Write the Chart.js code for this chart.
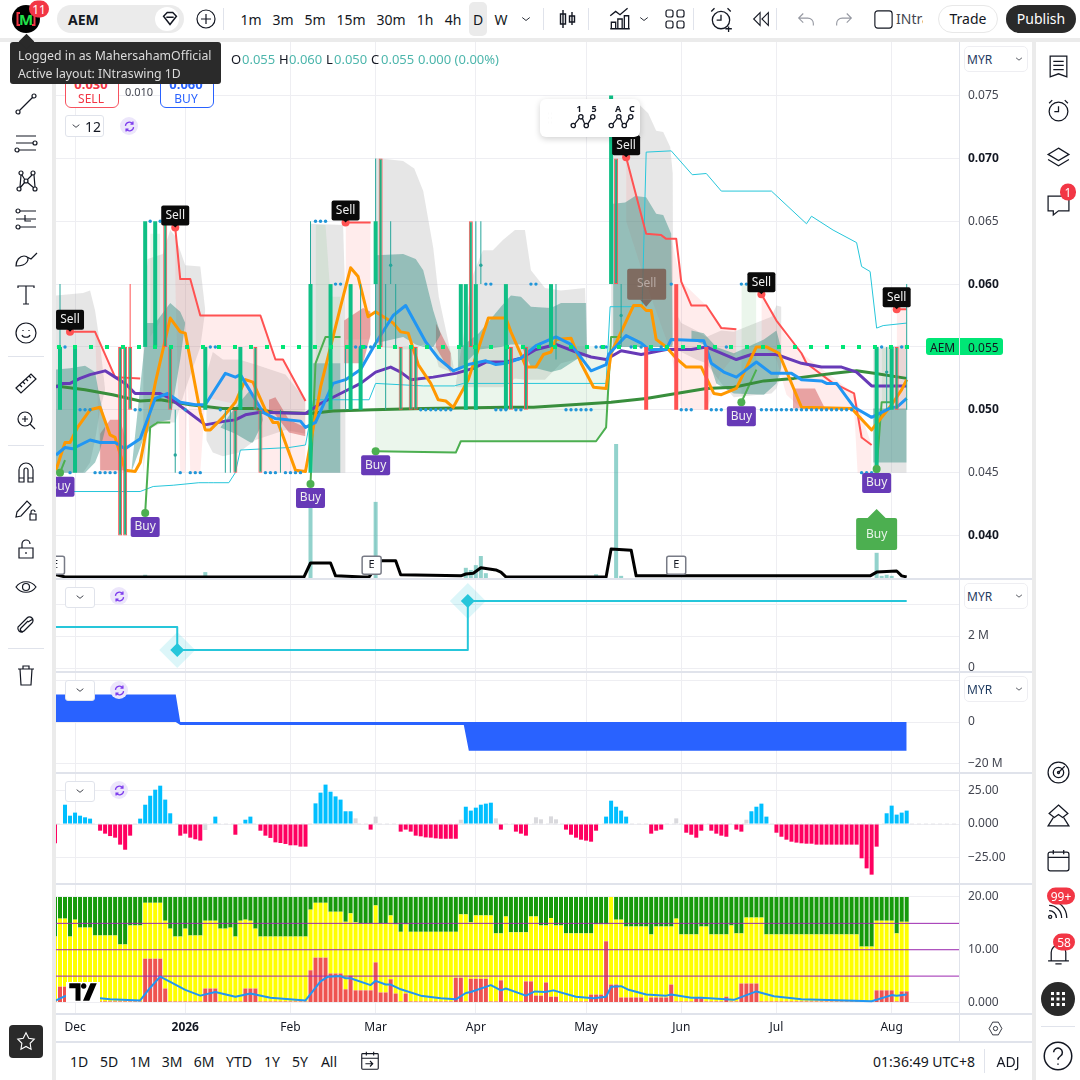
<!DOCTYPE html>
<html>
<head>
<meta charset="utf-8">
<title>AEM 1D</title>
<script src="https://cdn.jsdelivr.net/npm/chart.js@4"></script>
<style>
  html, body { margin: 0; padding: 0; background: #fff; width: 1080px; height: 1080px; overflow: hidden; font-family: "Noto Sans", sans-serif; color: #131722; }
  canvas { position: absolute; }
  .ui { position: absolute; white-space: nowrap; }
  .mid { transform: translate(-50%, -50%); }
  .ic { position: absolute; fill: none; stroke: #131722; stroke-width: 1.2; }
</style>
</head>
<body>
<canvas id="priceChart" width="978" height="536" style="left:56px;top:42px"></canvas>
<canvas id="flowChart" width="978" height="92" style="left:56px;top:579px"></canvas>
<canvas id="netChart" width="978" height="100" style="left:56px;top:672px"></canvas>
<canvas id="momentumChart" width="978" height="110" style="left:56px;top:773px"></canvas>
<canvas id="stackChart" width="978" height="158" style="left:56px;top:884px"></canvas>
<script>
// ---- axis labels
const monthBars = [3, 25, 46, 63, 83, 105, 124, 143, 166];
const monthLabels = ["Dec", "2026", "Feb", "Mar", "Apr", "May", "Jun", "Jul", "Aug"];
const priceTicks = [0.075, 0.07, 0.065, 0.06, 0.055, 0.05, 0.045, 0.04];
const strongPriceTicks = ["0.070", "0.060", "0.050", "0.040"];

// ---- main pane lines (bar number, price)
const purpleBars = [-0.8,0.6,2,4,6,9,11,13,15,20,22,25,29,33,35,37,40,49,52,56,60,63,66,68,70,74.5,79,82.5,85,89,92,95,99,103,106,109,112,116,121,126,129,135,138,143,148,152,156,159,162,169];
const purpleValues = [.0518,.0521,.0521,.0525,.0528,.0531,.0526,.0521,.0513,.0513,.0509,.05,.0488,.0491,.0492,.0496,.0498,.0497,.0505,.0513,.0521,.053,.0534,.053,.0524,.0526,.0529,.0533,.0538,.0538,.0541,.0548,.0552,.0546,.0542,.054,.0547,.0544,.0548,.0548,.055,.054,.0544,.0544,.0537,.0534,.0534,.053,.0519,.0519];
const blueBars = [-0.8,1,2.5,6,8,11,13,16,19,21.5,24,27,29,33,35,36,40.5,43,48,49,51,54.5,57,60,63,66.5,69,73,75.5,78.5,81.5,85,87,89,92,95,99,102,106,109,109.5,113,116,117.5,121,122,128.5,130,132.5,135,139,142,146,148,152,153,155,158.5,162,166,167,169];
const blueValues = [.0464,.047,.0469,.0476,.0474,.0474,.0469,.0477,.0509,.0513,.0506,.0504,.0504,.0529,.0526,.0528,.0498,.0493,.0491,.0486,.049,.0521,.0524,.0532,.0553,.0575,.0583,.0554,.0541,.0531,.0536,.0539,.0536,.0537,.0541,.0551,.0558,.0552,.0531,.0536,.0544,.0559,.0553,.0548,.0548,.0556,.0555,.0537,.053,.0526,.0538,.0529,.0529,.0524,.0523,.0521,.0521,.0502,.0494,.0502,.0502,.0509];
const orangeBars = [-0.8,1,2,3.5,6,8,10,11,13,15,16,19,22,24,25,28,29,30,32.5,35,37,38.5,41,42.5,43.5,47,49,52,56,58,59.5,61.5,63,66.5,68,69.5,71.5,74,75.5,77,78.5,81.5,85.5,89,90,92,93,95,96.5,98,99,102,104,106.5,109,110,114.5,116,117,118,119,121,123,125,128,130.5,132,135,139,141,143.5,148,158,162,166,168,169];
const orangeValues = [.0452,.0474,.0474,.0486,.05,.0502,.048,.0478,.0452,.0451,.0458,.0521,.0573,.0562,.0561,.0498,.0484,.0484,.0494,.0506,.0524,.0522,.05,.049,.049,.0452,.0451,.0518,.0582,.0613,.0606,.0574,.0578,.0569,.0562,.0561,.0536,.0521,.0508,.0507,.0502,.0524,.0573,.0573,.0562,.0544,.0534,.0534,.0544,.0546,.0556,.0557,.0537,.0518,.0517,.0545,.0583,.0583,.0579,.0579,.0556,.055,.0541,.0534,.0534,.0513,.0512,.0517,.055,.055,.0545,.0502,.0501,.0484,.0504,.0516,.0524];
const darkGreenBars = [-0.8,5,10.5,16,20,26,32.5,39,42.5,50,54.5,62.5,72.5,89,94.5,110,117,123,129,134.5,140.5,146.5,154.5,159,162.5,169];
const darkGreenValues = [.0519,.0516,.0512,.0507,.0508,.0504,.0501,.0501,.0498,.0497,.0499,.05,.0501,.0502,.0502,.0506,.0509,.0513,.0517,.0518,.0523,.0525,.0529,.0531,.0529,.0525];
const cyanBars = [-0.8,16,18.6,22.6,27.7,29.7,30.7,33.7,35,36,45.7,49,49.6,50.6,61.7,63,72.5,78.7,80.5,89,109,109.8,116.2,117,122,126.2,129,132,142,149,150,154.3,159,160,161.7,163,164.3,169];
const cyanValues = [.0435,.0435,.0439,.044,.0442,.0442,.0442,.0442,.045,.0468,.047,.0472,.0485,.0508,.0508,.0521,.0519,.0519,.0521,.0521,.0521,.0582,.0582,.0705,.0706,.0687,.0688,.0674,.0674,.0648,.0654,.0643,.0633,.0614,.061,.0565,.0567,.0569];
const redStopBars = [2,7,11,16,16.5,23,24,26,28,40,43,44.5,49,49.5,57,62,62.5,113,117,120,121,123,124,126,129,132,135,135.5,140,143,148,149,154,158.5,160,162,162.5,167,169];
const redStopValues = [.0562,.0562,.0526,.0525,null,.0645,.0604,.0604,.0575,.0575,.054,.054,.0507,null,.0649,.0649,null,.0701,.064,.0639,.0636,.0636,.0602,.0583,.0583,.0565,.0564,null,.0592,.0571,.0545,.0537,.0522,.0513,.0478,.0472,null,.058,.058];
const greenStopBars = [0,1,1.5,17,18,19.5,22,22.5,50,51,53,56,56.5,63,79,80,107,109,110,112,112.5,136,139,139.5,163,164,166];
const greenStopValues = [.045,.046,null,.0418,.0486,.049,.049,null,.0441,.0537,.0558,.0558,null,.0467,.0466,.0475,.0475,.0486,.0558,.0558,null,.0506,.0532,null,.0453,.0506,.0506];

// ---- shaded bands (bar number, upper, lower)
const grayBars = [-0.8,4.6,6,7,8,9,9.1,16.6,17.5,20.5,22,23,25,28,29,29.1,29.2,30.5,32.5,35.7,39,45,49,49.1,50,56.5,57,57.1,63,64,68.5,70.7,72.5,74.5,75.6,78.6,78.7,79,82.5,84.4,86.4,88.4,90.8,92.8,94,96.8,100,104.8,105.2,105.3,110,112.8,115.8,117.4,119,120.4,121.8,122.3,122.4,122.5,123,124,127,129,132,134.5,142,143,144,144.1,162.3,169];
const grayUpper = [.0591,.0593,.0595,.0579,.0552,.0516,null,.0579,.062,.0624,.0643,.0638,.0615,.0614,.0579,null,.0528,.0546,.054,.054,.0536,.0528,.0508,null,.0648,.0647,.0582,null,.07,.07,.0698,.0692,.0674,.0629,.059,.0534,null,.0521,.0608,.0627,.0627,.0635,.0643,.0643,.0611,.0597,.0595,.0597,.054,null,.0717,.0733,.0742,.0736,.0722,.0721,.0709,.0688,.0552,null,.0577,.0569,.0563,.0558,.0563,.0562,.0574,.0583,.0582,null,.0548,.0552];
const grayLower = [.045,.045,.0458,.0476,.05,.0516,null,.045,.0484,.049,.049,.049,.0516,.055,.0579,null,.0476,.0466,.0463,.0466,.0476,.0484,.0481,null,.045,.045,.045,null,.055,.055,.0548,.0548,.0552,.055,.0534,.0529,null,.0518,.0518,.0518,.0518,.0518,.0525,.0524,.0524,.0524,.0537,.0542,.054,null,.055,.055,.055,.055,.055,.055,.055,.0552,.0552,null,.0548,.0546,.054,.0537,.0521,.051,.0513,.0517,.0529,null,.045,.045];
const tealBars = [-0.8,2,5,7,8,9,9.1,14.2,17,17.3,19,22,24,25,25.1,32,35,38,38.5,40,40.5,40.6,50.5,56,56.1,63,68.5,71,72.5,74.5,76,76.1,79.4,83.6,88,90,92,94,98,100,105,105.2,105.3,110.4,112.8,114.8,117,119,120.4,122,122.3,122.4,126,128.5,131,134.5,140.5,143,144,144.1,162.3,169];
const tealUpper = [.0532,.0533,.0535,.053,.0508,.0492,null,.045,.0556,.0569,.0569,.0585,.0578,.0569,null,.0486,.0502,.0516,.051,.0502,.0492,null,.0537,.0537,null,.0623,.0624,.062,.0611,.0579,.056,null,.0548,.0561,.0582,.0591,.059,.0582,.0581,.0585,.0585,.054,null,.0664,.0665,.067,.0669,.0656,.0655,.064,.0556,null,.0563,.0561,.055,.0545,.0556,.0563,.0548,null,.0501,.0501];
const tealLower = [.045,.045,.045,.0458,.0468,.0484,null,.045,.0481,.0481,.049,.0492,.054,.0569,null,.0486,.0481,.0474,.0474,.0486,.0492,null,.045,.045,null,.0553,.0558,.0552,.055,.055,.056,null,.0531,.0548,.055,.0552,.0552,.0534,.053,.0532,.0545,.054,null,.055,.055,.055,.055,.055,.055,.055,.055,null,.0556,.0552,.0521,.0513,.0512,.0521,.0534,null,.0458,.0458];
const pinkBars = [7,8,11,14,14.1,23,24,25,25.5,26,28,29,40,40.5,43,44.5,49,49.1,57,62,62.1,113,117,122,124,129,132,135,135.1,140,143,145,148,158.5,159.2,162,162.1,167,169];
const pinkUpper = [.0562,.0554,.0526,.0525,null,.0645,.0604,.0604,.0604,.0604,.0575,.0575,.0575,.0573,.054,.054,.0507,null,.0649,.0649,null,.0701,.064,.0636,.0602,.0583,.0565,.0564,null,.0592,.0571,.0558,.0545,.0513,.0505,.0472,null,.058,.058];
const pinkLower = [.0562,.045,.045,.045,null,.06,.045,.045,.052,.045,.045,.051,.05,.045,.045,.045,.045,null,.0556,.0556,null,.065,.06,.0545,.05,.05,.053,.0545,null,.0552,.054,.0512,.0501,.0501,.045,.045,null,.05,.05];
const roseBars = [8,10,12,13,13.1,41.7,43,45.7,49,49.1,56.7,60.5,62,62.1,75,78,78.1,146.3,150.7,152.7];
const roseUpper = [.0481,.0492,.0492,.0478,null,.0508,.051,.0492,.0486,null,.0571,.0581,.0578,null,.0569,.0545,null,.0517,.0517,.0501];
const roseLower = [.0452,.0452,.0452,.0452,null,.05,.0496,.0482,.0479,null,.0537,.0537,.056,null,.055,.0529,null,.0501,.0501,.0501];
const paleGreenBars = [18,20,20.1,51,53,54,56,56.1,63,79,80,107,109,109.5,109.6,136,139,139.1,164,166];
const paleGreenUpper = [.064,.064,null,.0647,.0647,.059,.059,null,.055,.055,.055,.055,.055,.055,null,.06,.06,null,.055,.055];
const paleGreenLower = [.0558,.057,null,.0537,.0537,.0537,.0537,null,.0467,.0466,.0475,.0475,.0486,.051,null,.0506,.0532,null,.0506,.0506];

// ---- candles (bar number, low, high)
const upBars = [0,3,17,19,29,36,50,54,58,60,63,80,81,83,89,98,110,163,166];
const upLow = [.05,.045,.055,.055,.05,.05,.045,.05,.05,.05,.06,.055,.05,.05,.05,.055,.06,.045,.05];
const upHigh = [.055,.055,.065,.065,.055,.055,.06,.06,.06,.055,.065,.06,.06,.06,.06,.06,.075,.055,.055];
const mixedBars = [12,13,14,21,22,35,39,40,64,68,70,71,82,90,93,111,167];
const mixedLow = [.04,.04,.05,.055,.05,.045,.05,.045,.055,.05,.05,.05,.055,.05,.05,.06,.05];
const mixedHigh = [.055,.055,.055,.065,.055,.05,.055,.05,.07,.055,.055,.055,.065,.055,.055,.07,.055];
const downBars = [117,123,129];
const downLow = [.05,.05,.05];
const downHigh = [.055,.06,.055];
const wickBars = [0,23,33,34,44,50,57,60,63,65,66,67,83,84,99,112,165,169];
const wickLow = [.055,.045,.045,.045,.045,.06,.05,.055,.055,.05,.06,.055,.06,.06,.054,.055,.05,.05];
const wickHigh = [.06,.05,.05,.05,.05,.065,.055,.06,.07,.06,.065,.06,.065,.065,.06,.06,.055,.06];
const redWickBars = [14];
const redWickLow = [.055];
const redWickHigh = [.06];

// ---- flat days drawn as little dots
const dotsAt065 = [18,20,51,52,53];
const dotsAt060 = [55,56,85,86,94,95,122,136,137,138,139];
const dotsAt055 = [1,30,31,59,60,61,62,70,107,108,109,114,116,118,120,133,164,166,168];
const dotsAt050 = [4,5,6,15,16,25,32,72,73,74,75,76,77,78,87,88,89,91,92,101,102,103,104,105,106,124,125,126,130,131,132,134,135,140,141,142,143,144,145,146,147,148,149,150,151,152,153,154,155,156,157,158];
const dotsAt045 = [2,7,8,9,10,11,24,26,27,28,41,42,43,45,46,47,48,160,161,162];
const wickDotBars = [23,66,84,112,165];
const wickDotPrices = [.0464,.0615,.0615,.0575,.053];

// ---- signals
const sellBars = [2,23,57,113,140,167];
const sellPrices = [.0562,.0645,.0649,.0701,.0592,.058];
const buyBars = [0,17,50,63,136,163];
const buyPrices = [.045,.0418,.0441,.0467,.0506,.0453];
const earningsBars = [-1,62.2,123];
const lastPrice = 0.055;

// ---- volume on its own hidden scale
const volumeBars = [17,29,50,63,81,82,83,84,85,107,111,112,163,164,165,166];
const volumeValues = [.6,1.1,16.4,14.2,1.9,1.5,2.4,4.1,.9,.7,25,.4,4.7,.4,.6,.4];
const volumeMaBars = [-0.8,1,48.7,50,54,55,60.5,61.7,64,67,68,80,81,82.5,84,87,88,89,109,110,114,115,161.7,163,167,168,169];
const volumeMaValues = [.6,.2,.2,2.8,2.8,.4,.2,.2,3.2,3.2,.6,.4,.75,.9,1.9,1.5,1.1,.2,.2,5.4,5.2,.4,.4,1.1,1.3,.4,.2];

// ---- second pane, step line (millions)
const flowBars = [-0.8,23.4,23.4,81.4,81.4,169];
const flowValues = [2.56,2.56,1.12,1.12,4.19,4.19];
const flowMarkerBars = [23.4,81.4];
const flowMarkerValues = [1.12,4.19];

// ---- third pane, filled band (millions)
const netBars = [-0.8,23.1,24,80.6,81.6,169];
const netUpper = [13.3,13.3,0,0,0,0];
const netLower = [0,0,-1.4,-1.4,-13.8,-13.8];

// ---- fourth pane, histogram, first value is bar -1
const momentumValues = [-14.4,0,14.4,6.2,8.5,6.2,5,4,0,-5,-7.2,-9,-10.2,-15.4,-19.2,-8.7,0,4,14.4,21.1,25.6,28.6,18.2,8,0,-8.7,-7.2,-10.2,-11.4,-12.4,-4.5,0,5.5,0,0,0,-8,0,3.2,5.5,0,-5,-8.7,-10.4,-13.7,-14.2,-14.9,-15.9,-15.9,-16.9,-16.9,0,15.4,23.4,29.4,24.1,20.6,18.2,9.5,9.5,4.2,0,0,-4.2,5.5,0,0,0,0,-5.7,-4.2,-5.7,-8.7,-9.2,-10,-10.2,-10.7,-11,-11,-11,-11,3.2,12.9,10,12.2,14.4,15.2,15.9,4.2,-4.2,0,0,-5.7,-7.2,-8.7,0,5,3.5,0,5.7,3.5,0,-4.2,-8,-10.2,-11.7,-12.4,-13.2,-5,0,5.5,17.4,12.9,10,5.5,0,0,0,0,-7.2,-5,-4.2,0,0,4.2,0,-6.5,-8,-10.2,-5,0,-5,-7.2,-8.7,-9.5,0,-4.2,-5.7,3.2,9.5,12.9,15.2,5.5,0,-6.5,-9.5,-11.7,-13.2,-13.9,-14.4,-14.7,-14.7,-15.4,-15.4,-15.4,-15.4,-15.4,-15.4,-15.4,-15.4,-15.4,-25.6,-33.1,-37.8,-16.9,0,8,13.7,7,8.5,10];
const momentumGreyBars = [29,59,63,80,87,95,96,98,99,123,137];

// ---- fifth pane, stacked columns, first value is bar -1
const redLevels = [.2,3,3,1.5,.4,.2,.2,.2,.2,.2,.2,.2,.2,.2,.2,.2,.2,.2,8.3,8.3,8.3,8.3,2.65,.2,.2,.2,.2,.2,.2,.2,2.65,2.65,2.65,.2,.2,.2,.2,.2,2.65,2.65,2.65,.2,.2,.2,.2,.2,.2,.2,.2,.2,.2,6.1,8.5,8.5,8.5,5.5,5.5,5.5,2.5,5.1,2.3,2.3,2.3,2.3,7.6,1.9,1.9,4.4,1.7,.2,1.7,.2,.2,.2,.2,.2,.2,.2,.2,.2,4.7,4.7,.2,4.5,4.5,4.5,4.5,.2,.2,4.2,.2,.2,.2,.2,4,4,1.3,1.3,3.8,1.1,1.1,.2,.2,.2,.2,.2,.2,1.5,1.5,1.5,11.6,3.4,3.4,.95,.95,.95,.95,.95,.2,.95,.95,.95,.95,3.4,.2,.2,.2,.2,.95,.95,.2,.2,.2,.2,1.1,.2,.2,3.6,3.6,3.6,3.6,.2,.2,.2,.2,.2,.2,.2,.2,.2,.2,.2,.2,.2,.2,.2,.2,.2,.2,.2,.2,.2,.2,.2,2.3,2.3,2.3,2.3,.2,2.1,2.1];
const yellowLevels = [12.5,15.9,15.9,12.5,15.7,14.2,14.2,14.2,12.7,12.7,12.7,12.7,12.7,11,11,14.6,14.6,14.6,18.9,18.9,18.9,18.9,15.5,14,12.5,12.5,14,12.7,12.7,12.7,15.5,15.5,15.5,14,14,14.2,12.5,15.5,15.7,15.5,14,12.5,12.5,12.5,12.5,12.5,12.5,12.5,12.5,12.5,12.5,17.6,18.9,18.9,18.9,17.2,17.2,17.2,15.3,16.9,15.2,15,15,15,18.4,15,15,16.5,14.8,13.4,14.8,13.4,13.4,13.4,13.4,13.4,13.4,13.4,13.4,13.4,13.4,16.7,16.7,15.2,16.5,16.5,16.5,16.5,13.1,13.1,16.3,13.3,13.3,13.3,13.3,16.3,16.3,14.6,14.6,16,14.6,14.6,13.1,13.1,13.1,13.1,13.1,13.1,14.8,14.8,14.8,20,15.7,15.7,14.4,14.4,14.4,14.4,14.4,12.9,14.4,14.4,14.4,14.4,15.9,12.9,12.9,12.9,12.9,14.4,14.4,12.9,12.9,12.9,12.9,14.6,13.1,13.1,16.1,16.1,16.1,16.1,12.9,12.9,12.9,12.9,12.9,12.9,12.9,12.9,12.9,12.9,12.9,12.9,12.9,12.9,12.9,12.9,12.9,12.9,12.9,10.6,10.6,10.6,15.5,15.5,15.5,15.5,13.1,15.3,15.3];
const stackTop = 20;
const guideLevels = [15, 10, 5];
const averageBars = [-0.8,1,2,7,10,16,18,20,22,25,28,31,35,38,42,49,52,53.5,56,57,58,62,63,65,66,68,72,76,79,81,82,86,88,89,93,94.8,96.8,98.5,103,106.5,109,110,112,113.5,117,121,122,126,128,134.5,139,142.5,148,162,166,167,169];
const averageValues = [.4,1.2,1.3,.9,.6,.4,2.8,4.9,3.9,2.4,1.3,2,1.1,1.7,.9,.4,4,4.9,5,4.6,4.6,3.3,4.1,3.4,3.4,2.5,1.3,.8,.6,1.8,2,3.3,2.3,2.65,1.3,2.1,2,2.3,1.1,.8,1.1,3,3.1,2.4,1.5,1.3,1.5,.9,.9,.5,2.1,1.2,.6,.25,1.4,1.3,1.5];

// ---- helpers
const UI_FONT = '"Noto Sans", sans-serif';
const pts = (bars, vals) => bars.map((x, i) => ({ x, y: vals[i] }));
const spans = (bars, lo, hi) => bars.map((x, i) => ({ x, y: [lo[i], hi[i]] }));
const fromMinusOne = (vals) => vals.map((y, i) => ({ x: i - 1, y }));
const flat = (bars, price) => bars.map((x) => ({ x, y: price }));

function line(bars, vals, color, width, order, extra) {
  return Object.assign({ type: "line", data: pts(bars, vals), borderColor: color, borderWidth: width, pointRadius: 0, tension: 0, order: order, borderJoinStyle: "round", fill: false }, extra);
}
function band(bars, upper, lower, color, order) {
  return [
    { type: "line", data: pts(bars, upper), borderWidth: 0, pointRadius: 0, tension: 0, fill: "+1", backgroundColor: color, order: order },
    { type: "line", data: pts(bars, lower), borderWidth: 0, pointRadius: 0, tension: 0, fill: false, order: order },
  ];
}
function barSet(data, color, thickness, order, extra) {
  return Object.assign({ type: "bar", data: data, backgroundColor: color, barThickness: thickness, grouped: false, inflateAmount: 0, borderSkipped: false, order: order }, extra);
}
function dots(data, color, radius, order, extra) {
  return Object.assign({ type: "scatter", data: data, backgroundColor: color, borderWidth: 0, pointRadius: radius, order: order }, extra);
}
// keep the plot area exactly as large as the canvas minus the fixed axis sizes
function noPadding(s) {
  s.paddingTop = s.paddingBottom = s.paddingLeft = s.paddingRight = 0;
}

function paneOptions(yMin, yMax, tickValues, fmt, showMonths) {
  return {
    animation: false,
    responsive: false,
    events: [],
    layout: { padding: 0, autoPadding: false },
    plugins: { legend: { display: false }, tooltip: { enabled: false } },
    scales: {
      x: {
        type: "linear",
        offset: false,
        min: -0.8,
        max: 179.64,
        grid: { color: "#eeeef2", drawTicks: false, offset: false },
        border: { display: false },
        afterBuildTicks: (s) => { s.ticks = monthBars.map((value) => ({ value })); },
        afterFit: (s) => { s.height = showMonths ? 28 : 0; noPadding(s); },
        ticks: showMonths
          ? {
              autoSkip: false,
              maxRotation: 0,
              padding: 6,
              color: "#131722",
              callback: (v) => monthLabels[monthBars.indexOf(v)],
              font: (c) => ({ family: UI_FONT, size: 12, weight: c.tick && c.tick.value === 25 ? "bold" : "normal" }),
            }
          : { display: false },
      },
      y: {
        position: "right",
        min: yMin,
        max: yMax,
        grid: { color: "#eeeef2", drawTicks: false },
        border: { display: false },
        afterBuildTicks: (s) => { s.ticks = tickValues.map((value) => ({ value })); },
        afterFit: (s) => { s.width = 74; noPadding(s); },
        ticks: { autoSkip: false, padding: 8, color: "#434651", font: { family: UI_FONT, size: 12 }, callback: fmt },
      },
    },
  };
}

// ---- tags on the main pane
function roundBox(ctx, x, y, w, h, r, fill) {
  ctx.fillStyle = fill;
  ctx.beginPath();
  ctx.roundRect(x, y, w, h, r);
  ctx.fill();
}
function tagText(ctx, text, x, y, color, size) {
  ctx.fillStyle = color;
  ctx.font = size + "px " + UI_FONT;
  ctx.textAlign = "center";
  ctx.textBaseline = "middle";
  ctx.fillText(text, x, y);
}
const tagPlugin = {
  id: "tags",
  afterDatasetsDraw(chart) {
    const { ctx, chartArea, scales } = chart;
    const xs = scales.x, ys = scales.y, yv = scales.yVol;
    ctx.save();
    ctx.beginPath();
    ctx.rect(chartArea.left, chartArea.top, chartArea.width, chartArea.height);
    ctx.clip();

    sellBars.forEach((bar, i) => {
      const x = xs.getPixelForValue(bar), y = ys.getPixelForValue(sellPrices[i]);
      roundBox(ctx, x - 14, y - 22, 28, 20, 2, "#0a0a0a");
      ctx.beginPath(); ctx.moveTo(x - 3, y - 3); ctx.lineTo(x + 3, y - 3); ctx.lineTo(x, y); ctx.fill();
      tagText(ctx, "Sell", x, y - 12, "#f0f0f0", 12);
    });
    buyBars.forEach((bar, i) => {
      const x = xs.getPixelForValue(bar), y = ys.getPixelForValue(buyPrices[i]);
      roundBox(ctx, x - 14.5, y + 4, 29, 20, 2, "#673ab7");
      tagText(ctx, "Buy", x, y + 14, "#f0f0f0", 12);
    });
    earningsBars.forEach((bar) => {
      const x = xs.getPixelForValue(bar), y = yv.getPixelForValue(2.4);
      ctx.fillStyle = "#fff"; ctx.strokeStyle = "#787b86"; ctx.lineWidth = 1.5;
      ctx.beginPath(); ctx.roundRect(x - 9.5, y - 9, 19, 18, 2); ctx.fill(); ctx.stroke();
      tagText(ctx, "E", x, y, "#131722", 11);
    });

    // the big translucent sell and the big buy
    const sx = xs.getPixelForValue(117), sy = ys.getPixelForValue(0.0582);
    ctx.fillStyle = "rgba(121,85,72,0.78)";
    ctx.beginPath(); ctx.moveTo(sx - 6, sy - 7); ctx.lineTo(sx, sy); ctx.lineTo(sx + 6, sy - 7); ctx.fill();
    ctx.beginPath(); ctx.roundRect(sx - 19, sy - 38, 39, 31, 2); ctx.fill();
    tagText(ctx, "Sell", sx + 0.5, sy - 23, "#b8aaa4", 12);

    const bx = xs.getPixelForValue(163), by = ys.getPixelForValue(0.0421);
    ctx.fillStyle = "#4caf50";
    ctx.beginPath(); ctx.moveTo(bx - 9, by + 9); ctx.lineTo(bx, by); ctx.lineTo(bx + 9, by + 9); ctx.fill();
    ctx.beginPath(); ctx.roundRect(bx - 20.5, by + 9, 41, 32, 2); ctx.fill();
    tagText(ctx, "Buy", bx, by + 25, "#e8f5e9", 12);
    ctx.restore();
  },
};

// ---- main pane
const mainOptions = paneOptions(0.03662, 0.07926, priceTicks, (v) => v.toFixed(3), false);
const isStrongTick = (c) => c.tick && strongPriceTicks.includes(c.tick.value.toFixed(3));
mainOptions.scales.y.ticks.color = (c) => (isStrongTick(c) ? "#131722" : "#434651");
mainOptions.scales.y.ticks.font = (c) => ({ family: UI_FONT, size: 12, weight: isStrongTick(c) ? "bold" : "normal" });
mainOptions.scales.yVol = { display: false, position: "left", min: 0, max: 100 };

const volume = barSet(pts(volumeBars, volumeValues), "rgba(38,166,154,0.5)", 4, 70, { yAxisID: "yVol" });
new Chart(document.getElementById("priceChart"), {
  data: {
    datasets: [
      ...band(grayBars, grayUpper, grayLower, "rgba(150,150,150,0.24)", 90),
      ...band(pinkBars, pinkUpper, pinkLower, "rgba(255,82,82,0.11)", 88),
      ...band(paleGreenBars, paleGreenUpper, paleGreenLower, "rgba(76,175,80,0.11)", 86),
      ...band(roseBars, roseUpper, roseLower, "rgba(200,60,60,0.42)", 84),
      ...band(tealBars, tealUpper, tealLower, "rgba(38,135,125,0.42)", 82),
      volume,
      line(volumeMaBars, volumeMaValues, "#000", 3, 60, { yAxisID: "yVol" }),
      line(cyanBars, cyanValues, "#26c6da", 1, 40),
      line(redStopBars, redStopValues, "#ff5252", 2, 38),
      line(greenStopBars, greenStopValues, "#4caf50", 2, 38),
      line(darkGreenBars, darkGreenValues, "#388e3c", 3, 36),
      line(purpleBars, purpleValues, "#673ab7", 3, 35),
      line(orangeBars, orangeValues, "#ff9800", 3, 34),
      line(blueBars, blueValues, "#2196f3", 3, 33),
      barSet(spans(wickBars, wickLow, wickHigh), "#26a69a", 1, 20),
      barSet(spans(redWickBars, redWickLow, redWickHigh), "#ff5252", 1, 20),
      barSet(spans(upBars, upLow, upHigh), "#0fbf85", 4, 18),
      barSet(spans(mixedBars, mixedLow, mixedHigh), "#1fae80", 4, 18, { borderColor: "#ff5252", borderWidth: 1 }),
      barSet(spans(downBars, downLow, downHigh), "#ff5252", 4, 18),
      line([-0.6, 171.6], [lastPrice, lastPrice], "#00e676", 4, 10, { borderDash: [4, 12] }),
      dots(flat(dotsAt065, 0.065), "#2196d8", 1.7, 12),
      dots(flat(dotsAt060, 0.06), "#2196d8", 1.7, 12),
      dots(flat(dotsAt055, 0.055), "#2196d8", 1.7, 12),
      dots(flat(dotsAt050, 0.05), "#2196d8", 1.7, 12),
      dots(flat(dotsAt045, 0.045), "#2196d8", 1.7, 12),
      dots(pts(wickDotBars, wickDotPrices), "#26a69a", 1.7, 12),
      dots(pts(sellBars, sellPrices), "#ff5252", 4, 5),
      dots(pts(buyBars, buyPrices), "#4caf50", 4, 5),
    ],
  },
  options: mainOptions,
  plugins: [tagPlugin],
});

// ---- step pane
new Chart(document.getElementById("flowChart"), {
  data: {
    datasets: [
      line(flowBars, flowValues, "#26c6da", 2, 5),
      dots(pts(flowMarkerBars, flowMarkerValues), "#26c6da", 7, 2, { pointStyle: "rectRot" }),
      dots(pts(flowMarkerBars, flowMarkerValues), "rgba(38,198,218,0.16)", 18, 8, { pointStyle: "rectRot" }),
    ],
  },
  options: paneOptions(-0.1875, 5.5625, [4, 2, 0], (v) => (v === 4 ? "" : v === 0 ? "0" : v + " M"), false),
});

// ---- filled pane
new Chart(document.getElementById("netChart"), {
  data: { datasets: [...band(netBars, netUpper, netLower, "#2962ff", 5)] },
  options: paneOptions(-24.1, 24.1, [20, 0, -20], (v) => (v === 20 ? "" : v === 0 ? "0" : "\u221220 M"), false),
});

// ---- histogram pane
new Chart(document.getElementById("momentumChart"), {
  data: {
    datasets: [
      line([-0.8, 179.64], [0, 0], "#e4e4e8", 1, 9, { borderDash: [4, 3] }),
      barSet(fromMinusOne(momentumValues), (c) => {
        if (!c.raw) return "#000";
        if (momentumGreyBars.includes(c.raw.x)) return "#d9d9dd";
        return c.raw.y > 0 ? "#00bfff" : "#ff0060";
      }, 4, 5),
    ],
  },
  options: paneOptions(-44.03, 38.06, [25, 0, -25], (v) => (v === 0 ? "0.000" : (v < 0 ? "\u221225.00" : "25.00")), false),
});

// ---- stacked pane
const stackRows = redLevels.map((_, i) => i - 1);
new Chart(document.getElementById("stackChart"), {
  data: {
    datasets: [
      barSet(stackRows.map((x, i) => ({ x, y: [yellowLevels[i], stackTop] })), "#169a0a", 4, 9),
      barSet(stackRows.map((x, i) => ({ x, y: [redLevels[i], yellowLevels[i]] })), "#ffff00", 4, 8),
      barSet(stackRows.map((x, i) => ({ x, y: [0, redLevels[i]] })), "#ef5350", 4, 7),
      ...guideLevels.map((level) => line([-0.8, 179.64], [level, level], "#9c27b0", 1, 4)),
      line(averageBars, averageValues, "#2196f3", 2, 2),
    ],
  },
  options: paneOptions(-2.18, 22.46, [20, 10, 0], (v) => (v === 0 ? "0.000" : v.toFixed(2)), true),
});

// ---- everything around the charts
function block(left, top, width, height, css) {
  const d = document.createElement("div");
  d.className = "ui";
  d.style.cssText = `left:${left}px;top:${top}px;width:${width}px;height:${height}px;` + (css || "");
  document.body.appendChild(d);
  return d;
}
function label(text, cx, cy, css) {
  const d = document.createElement("div");
  d.className = "ui mid";
  d.textContent = text;
  d.style.cssText = `left:${cx}px;top:${cy}px;font-size:14px;` + (css || "");
  document.body.appendChild(d);
  return d;
}
function leftLabel(text, x, cy, css) {
  const d = label(text, x, cy, css);
  d.style.transform = "translateY(-50%)";
  return d;
}
function icon(cx, cy, inner, size, css) {
  const s = size || 24;
  const wrap = document.createElement("div");
  wrap.innerHTML = `<svg class="ic" width="${s}" height="${s}" viewBox="0 0 24 24" style="left:${cx - s / 2}px;top:${cy - s / 2}px;${css || ""}">${inner}</svg>`;
  document.body.appendChild(wrap.firstChild);
}
function badge(text, cx, cy, w) {
  label(text, cx, cy, `width:${w}px;height:17px;line-height:17px;text-align:center;border-radius:9px;background:#f23645;color:#fff;font-size:12px;`);
}
const chevron = '<path d="M7 10l5 4 5-4"/>';
const refresh = '<path d="M5.5 11a6.5 6.5 0 0 1 11.5-3.5M18.5 13a6.5 6.5 0 0 1-11.5 3.5M17.5 4v4h-4M6.5 20v-4h4" stroke="#7c3aed" stroke-width="2"/>';

// frames
block(0, 38, 1080, 4, "background:#ebebeb;");
block(52, 38, 4, 1042, "background:#ebebeb;");
block(1032, 38, 4, 1042, "background:#ebebeb;");
block(56, 578, 976, 1.5, "background:#e0e3eb;");
block(56, 671, 976, 1.5, "background:#e0e3eb;");
block(56, 772, 976, 1.5, "background:#e0e3eb;");
block(56, 883, 976, 1.5, "background:#e0e3eb;");
block(56, 1013, 976, 1.5, "background:#e0e3eb;");
block(56, 1041, 976, 1.5, "background:#e0e3eb;");

// top bar
block(12, 5, 28, 28, "background:#000;border-radius:50%;");
label("M", 26, 19, "color:#22e04a;font-weight:bold;font-size:15px;");
icon(26, 19, '<path d="M6 6H3.500v12H6M18 6h2.500v12H18" stroke="#f23645" stroke-width="2"/>', 24);
badge("11", 39, 9, 20);
block(57, 5, 127, 28, "background:#ebebeb;border-radius:14px;");
leftLabel("AEM", 68, 19, "font-weight:bold;font-size:14px;");
block(155, 7, 24, 24, "background:#fff;border-radius:50%;");
icon(170, 19, '<path d="M5 9l4-4h6l4 4-7 9zM8 10h8" stroke-width="1.6"/>', 22);
icon(206, 19, '<circle cx="12" cy="12" r="9"/><path d="M12 7v10M7 12h10"/>', 24);
block(223, 8, 1, 22, "background:#e0e3eb;");
const intervals = [["1m", 251], ["3m", 283], ["5m", 315], ["15m", 351], ["30m", 391], ["1h", 425], ["4h", 453], ["W", 501]];
block(469, 2, 18, 34, "background:#ebebeb;border-radius:5px;");
intervals.forEach(([t, x]) => label(t, x, 19));
label("D", 478, 19);
icon(526, 19, chevron, 18);
block(543, 8, 1, 22, "background:#e0e3eb;");
icon(567, 19, '<path d="M8 3v18M8 7h-2.5v10h5V7zM17 5v13M14.5 9h5v6h-5z" stroke-width="1.4"/>', 24);
block(588, 8, 1, 22, "background:#e0e3eb;");
icon(620, 19, '<path d="M3 21h18M4 21v-6h4v6M10 21V12h4v9M16 21V9h4v12M3 9l5-4 4 3 7-6"/>', 26);
icon(644, 19, chevron, 18);
icon(675, 19, '<rect x="3" y="3" width="7" height="7" rx="2"/><rect x="14" y="3" width="7" height="7" rx="2"/><rect x="3" y="14" width="7" height="7" rx="2"/><rect x="14" y="14" width="7" height="7" rx="2"/>', 24);
block(693, 8, 1, 22, "background:#e0e3eb;");
icon(721, 19, '<circle cx="12" cy="13" r="8"/><path d="M12 8v5H8M3 5l3-3M21 5l-3-3M19 19v6M16 21h6"/>', 26);
icon(761, 19, '<path d="M11 5l-7 7 7 7zM20 5l-7 7 7 7z"/>', 22);
block(776, 8, 1, 22, "background:#e0e3eb;");
icon(806, 19, '<path d="M9 6l-5 5 5 5M4 11h10a6 6 0 0 1 6 6v2" stroke="#9598a1"/>', 22);
icon(844, 19, '<path d="M15 6l5 5-5 5M20 11H10a6 6 0 0 0-6 6v2" stroke="#9598a1"/>', 22);
icon(883, 19, '<rect x="3" y="3" width="18" height="18" rx="3"/>', 23);
const intra = block(896, 8, 27, 22, "overflow:hidden;font-size:14px;line-height:22px;color:#434651;");
intra.textContent = "INtraswing 1D";
label("Trade", 968, 19, "width:58px;height:26px;line-height:26px;text-align:center;border:1px solid #e8e8e8;border-radius:15px;background:#fff;");
label("Publish", 1041, 19, "width:70px;height:28px;line-height:28px;text-align:center;border-radius:15px;background:#2a2a2a;color:#fff;");

// legend row and order buttons
const legendParts = [["O", 231, "#131722"], ["0.055", 242, "#4db6ac"], ["H", 279, "#131722"], ["0.060", 289, "#4db6ac"], ["L", 326, "#131722"], ["0.050", 334, "#4db6ac"], ["C", 371, "#131722"], ["0.055", 381, "#4db6ac"], ["0.000 (0.00%)", 418, "#4db6ac"]];
legendParts.forEach(([t, x, c]) => leftLabel(t, x, 58.5, `color:${c};font-size:13px;`));
block(65, 70, 52, 36, "border:1px solid #f7525f;border-radius:6px;background:#fff;");
label("0.030", 91, 84, "color:#f23645;font-size:13px;font-weight:bold;");
label("SELL", 91, 98, "color:#f23645;font-size:12px;");
label("0.010", 139, 91, "font-size:11px;color:#434651;");
block(160, 70, 52, 36, "border:1px solid #2962ff;border-radius:6px;background:#fff;");
label("0.060", 186, 84, "color:#2962ff;font-size:13px;font-weight:bold;");
label("BUY", 186, 98, "color:#2962ff;font-size:12px;");
block(65, 115, 37, 20, "border:1px solid #e0e3eb;border-radius:3px;background:#fff;");
icon(76, 126, chevron, 16);
label("12", 93, 126, "font-size:14px;");
[[129, 126], [119, 596], [119, 690], [119, 790]].forEach(([x, y]) => {
  block(x - 9, y - 9, 18, 18, "background:#ece6fb;border-radius:50%;");
  icon(x, y, refresh, 15);
});
[[587], [680], [781]].forEach(([y]) => {
  block(65, y, 28, 19, "border:1px solid #e0e3eb;border-radius:3px;background:#fff;");
  icon(79.5, y + 10, chevron, 16);
});
block(10, 42, 211, 42, "background:#2a2a2a;border-radius:3px;");
block(20.5, 36, 11, 11, "background:#2a2a2a;transform:rotate(45deg);");
leftLabel("Logged in as MahersahamOfficial", 18, 54.5, "color:#dbdbdb;font-size:12.3px;");
leftLabel("Active layout: INtraswing 1D", 18, 72.5, "color:#dbdbdb;font-size:12.3px;");

// floating drawing bar
block(540, 99, 100, 38, "background:#fff;border-radius:6px;box-shadow:0 2px 6px rgba(0,0,0,.18);");
icon(551, 118, '<path d="M8 6h.1M12 6h.1M8 12h.1M12 12h.1M8 18h.1M12 18h.1" stroke="#c4c4c8" stroke-width="2.4"/>', 18);
const waves = '<circle cx="3" cy="18" r="2"/><circle cx="10" cy="10" r="2"/><circle cx="15" cy="18" r="2"/><circle cx="21" cy="10" r="2"/><path d="M4.5 16.5l4-5M11.5 11.5l2 5M16.5 16.5l3-5"/>';
icon(583, 119, waves, 26);
icon(621, 119, waves, 26);
label("1", 579, 108, "font-size:9px;font-weight:bold;");
label("5", 594, 108, "font-size:9px;font-weight:bold;");
label("A", 618, 108, "font-size:9px;font-weight:bold;");
label("C", 632, 108, "font-size:9px;font-weight:bold;");

// last price tag and currency boxes
block(926, 338, 77, 17, "background:#00e676;border-radius:3px;");
leftLabel("AEM", 930, 347, "font-size:12px;");
leftLabel("0.055", 968, 347, "font-size:12px;");
block(959, 42, 1, 999, "background:#e0e3eb;");
[46, 583, 676].forEach((y) => {
  block(964, y, 62, 24, "border:1px solid #eeeef2;border-radius:5px;background:#fff;");
  leftLabel("MYR", 967, y + 13, "font-size:12px;color:#1e3a5f;");
  icon(1019, y + 13, chevron, 14);
});

// left tools
const leftTools = [
  [104, '<circle cx="4" cy="20" r="2"/><circle cx="20" cy="4" r="2"/><path d="M5.5 18.5l13-13"/>'],
  [143, '<path d="M2 5h20M2 12h17M5 19h17M2 20h0"/><circle cx="21" cy="12" r="2"/><circle cx="3" cy="19" r="2"/>'],
  [181, '<circle cx="5" cy="20" r="2"/><circle cx="7" cy="4" r="2"/><circle cx="19" cy="4" r="2"/><circle cx="21" cy="20" r="2"/><circle cx="12" cy="12" r="2"/><path d="M6 18l1-12M8 6l3 5M13 11l5-5M20 6l1 12M6 19l5-6M13 13l7 6"/>'],
  [219, '<circle cx="4" cy="4" r="2"/><circle cx="4" cy="20" r="2"/><path d="M6 4h16M2 12h20M6 20h16M11 8v6h6"/>'],
  [257, '<path d="M2 21c0-6 4-10 8-10s5 3 3 6-7 4-11 4zM13 12l4 2 6-6"/>'],
  [295, '<path d="M4 5V3h16v2M12 3v18M9 21h6"/>'],
  [333, '<circle cx="12" cy="12" r="10"/><path d="M8 14c1 3 7 3 8 0M9 9v1M15 9v1"/>'],
  [383, '<path d="M2 17L17 3l5 5L7 22zM6 14l2 2M9 11l2 2M12 8l2 2M15 5l2 2"/>'],
  [421, '<circle cx="11" cy="10" r="7"/><path d="M16 15l5 5M8 10h6M11 7v6"/>'],
  [472, '<path d="M5 22V10a7 7 0 0 1 14 0v12h-5V10a2 2 0 0 0-4 0v12zM5 18h5M14 18h5"/>'],
  [510, '<path d="M3 14L13 3l4 4L7 18l-5 1zM16 16h6v6h-6zM17 16v-2a2 2 0 0 1 4 0"/>'],
  [549, '<path d="M5 11h14v10H5zM8 11V7a4 4 0 0 1 8 0M12 15v2"/>'],
  [587, '<path d="M2 12c5-7 15-7 20 0-5 7-15 7-20 0z"/><circle cx="12" cy="12" r="3.5"/>'],
  [625, '<path d="M9 19a4 4 0 0 1-5-5l9-9a3 3 0 0 1 5 5l-8 8a2 2 0 0 1-3-3l7-7M14 9l5-3"/>'],
  [675, '<path d="M4 6h16M9 6V3h6v3M6 6l1 16h10l1-16"/>'],
];
leftTools.forEach(([y, d]) => icon(26, y, d, 24));
[356, 445, 648].forEach((y) => block(8, y, 36, 1, "background:#e0e3eb;"));
block(9, 1025, 34, 33, "background:#2a2a2a;border-radius:4px;");
icon(26, 1041, '<path d="M12 3l3 6 6 1-4.5 4.5 1 6.5-5.500-3-5.500 3 1-6.500L3 10l6-1z" stroke="#fff"/>', 22);

// right tools
const rightTools = [
  [66, '<path d="M4 2h16v20l-8-3-8 3zM7 7h10M7 11h10M7 15h10"/>'],
  [110, '<circle cx="12" cy="13" r="9"/><path d="M12 8v5H8M3 5l3-3M21 5l-3-3"/>'],
  [157, '<path d="M12 3l10 6-10 6L2 9zM2 14l10 6 10-6"/>'],
  [204, '<path d="M2 4h20v14h-10l-5 4v-4H2z"/>'],
  [772, '<circle cx="12" cy="12" r="10"/><circle cx="12" cy="12" r="5"/><circle cx="12" cy="12" r="1"/><path d="M12 12l6-6"/>'],
  [815, '<path d="M12 2l9 8-5 4-4-3-4 3-5-4zM7 14L2 22h20l-5-8"/>'],
  [860, '<rect x="2" y="4" width="20" height="18" rx="2"/><path d="M2 9h20M7 2v4M17 2v4"/>'],
  [908, '<circle cx="4" cy="20" r="1.500"/><path d="M3 14a7 7 0 0 1 7 7M3 9a12 12 0 0 1 12 12M3 4a17 17 0 0 1 17 17"/>'],
  [953, '<path d="M5 19V11a7 7 0 0 1 14 0v8M2 19h20M9 22h6"/>'],
  [1056, '<circle cx="12" cy="12" r="11"/><path d="M8.500 9a3.500 3.500 0 1 1 5.500 3c-1.500 1-2 1.500-2 3M12 18v1"/>'],
];
rightTools.forEach(([y, d]) => icon(1058, y, d, y === 1056 ? 30 : 25));
badge("1", 1068, 192, 16);
badge("99+", 1061, 896, 28);
badge("58", 1064, 942, 22);
block(1041, 982, 34, 34, "background:#2a2a2a;border-radius:50%;");
icon(1058, 999, '<path d="M5 5h3v3H5zM10.500 5h3v3h-3zM16 5h3v3h-3zM5 10.500h3v3H5zM10.500 10.500h3v3h-3zM16 10.500h3v3h-3zM5 16h3v3H5zM10.500 16h3v3h-3zM16 16h3v3h-3z" fill="#fff" stroke="none"/>', 24);
block(1041, 1026, 34, 1, "background:#e0e3eb;");

// bottom bar
const ranges = [["1D", 79], ["5D", 109], ["1M", 140], ["3M", 172], ["6M", 204], ["YTD", 239], ["1Y", 272], ["5Y", 300], ["All", 329]];
ranges.forEach(([t, x]) => label(t, x, 1061));
icon(370, 1061, '<rect x="3" y="4" width="18" height="17" rx="1"/><path d="M3 9h18M8 2v4M16 2v4M7 15h8M12 12l3 3-3 3"/>', 22);
label("01:36:49 UTC+8", 924, 1061);
block(984, 1049, 1, 24, "background:#e0e3eb;");
label("ADJ", 1008, 1061);
icon(995, 1028, '<path d="M8 3h8l5 9-5 9H8l-5-9z"/><circle cx="12" cy="12" r="3"/>', 17);

// watermark logo
block(66, 982, 34, 20, "background:#fff;");
icon(83, 992, '<path d="M1 5h9v14H6V9H1zM18 5h5l-6 14h-5zM12.500 5a2.200 2.200 0 1 0 .1 0" fill="#000" stroke="none"/>', 30);
</script>
</body>
</html>
